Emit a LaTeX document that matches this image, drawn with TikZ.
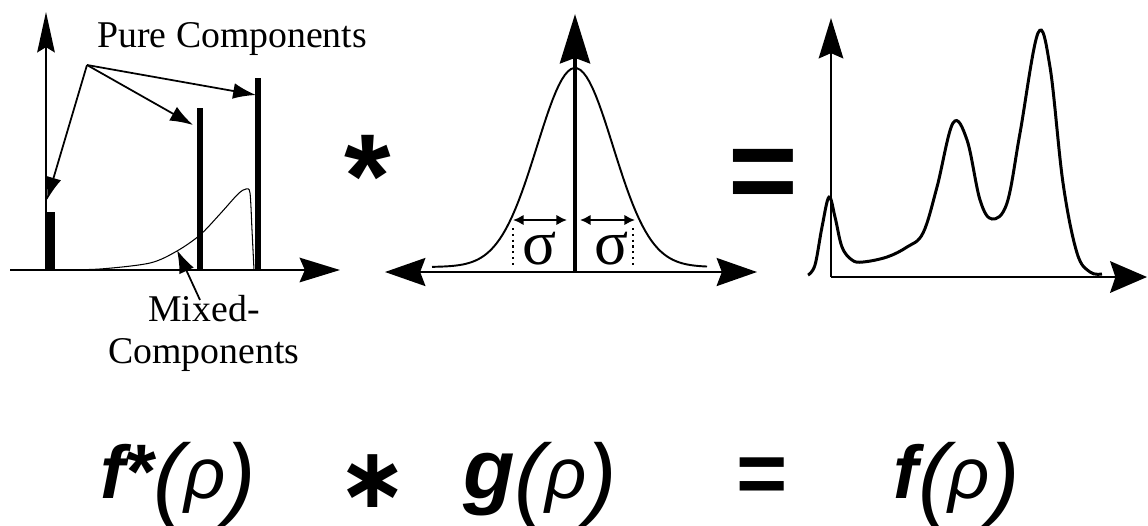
\documentclass[tikz,border=0pt]{standalone}
\usepackage{fontspec}
\setmainfont{Liberation Serif}
\newfontfamily\helv{Liberation Sans}
\newfontfamily\dejav{DejaVu Sans}
\usetikzlibrary{arrows.meta}
\newcommand\argrho{\itshape\fontsize{52}{54}\selectfont\raisebox{-6pt}{(}%
  \fontsize{41}{43}\selectfont ρ\fontsize{52}{54}\selectfont\raisebox{-6pt}{)}}

\begin{document}
\begin{tikzpicture}[x=0.02cm,y=-0.02cm,>=Latex,
  axis/.style={line width=1.1pt},
  pointer/.style={line width=1pt,-{Latex[length=13pt,width=9pt]}},
  sig/.style={line width=1.2pt,{Latex[length=6pt,width=6pt]}-{Latex[length=6pt,width=6pt]}},
  lbl/.style={inner sep=0pt,font=\fontsize{21.5}{24}\selectfont},
  big/.style={inner sep=0pt,anchor=north,font=\helv\bfseries\fontsize{68}{70}\selectfont},
  form/.style={inner sep=0pt,anchor=base west,font=\helv\fontsize{38}{40}\selectfont}]
\useasboundingbox (0,0) rectangle (1148,525);

% f*: pure and mixed components
\coordinate (O1) at (46,270);
\draw[axis,-{Stealth[length=23pt,width=10pt,inset=3pt]}] (O1) -- (46,12);
\draw[axis,-{Stealth[length=23pt,width=14pt,inset=3pt]}] (10,270) -- (340,270);
\fill (45,212) rectangle (55,270);
\fill (197,108) rectangle (203,270);
\fill (255,78) rectangle (261,270);
\draw[line width=0.6pt] plot[smooth] coordinates {(55,270) (100,269) (150,263) (177,251)
  (200,235) (220,214) (238,194) (246,189) (250,193) (252,230) (254,270)};
\node[lbl,anchor=base west] (pure) at (97,47) {Pure Components};
\coordinate (pc) at (87,65);
\coordinate (B1) at (47,200);
\coordinate (B2) at (193,125);
\coordinate (B3) at (256,95);
\draw[pointer] (pc) -- (B1);
\draw[pointer] (pc) -- (B2);
\draw[pointer] (pc) -- (B3);
\node[lbl,align=center,anchor=north] (mixed) at (204,295) {Mixed-\\Components};
\coordinate (mc) at (200,300);
\coordinate (M1) at (177,250);
\draw[pointer] (mc) -- (M1);

\node[big] (conv) at (368,135) {*};

% g: gaussian
\coordinate (O2) at (575,272);
\draw[line width=2.8pt,-{Stealth[length=28pt,width=17pt,inset=3pt]}] (O2) -- (575,14);
\draw[axis,{Stealth[length=23pt,width=16pt,inset=3pt]}-{Stealth[length=23pt,width=16pt,inset=3pt]}] (385,272) -- (757,272);
\draw[line width=1.1pt] plot[domain=432:707,samples=90] (\x,{267-199*exp(-((\x-575)/38)^2/2)});
\draw[sig] (513,220) -- (567,220);
\draw[sig] (580,220) -- (635,220);
\draw[dotted,line width=1.3pt] (513,228) -- (513,268);
\draw[dotted,line width=1.3pt] (633,228) -- (633,268);
\node[inner sep=0pt,font=\fontsize{36}{38}\selectfont] (s1) at (540,249) {σ};
\node[inner sep=0pt,font=\fontsize{36}{38}\selectfont] (s2) at (612,249) {σ};

\node[big] (eq) at (763,149) {=};

% f: result
\coordinate (O3) at (831,277);
\draw[axis,-{Stealth[length=23pt,width=14pt,inset=3pt]}] (O3) -- (831,18);
\draw[axis,-{Stealth[length=21pt,width=18pt,inset=3pt]}] (O3) -- (1147,277);
\draw[line width=1.7pt] plot[smooth,tension=0.6] coordinates {(808,275) (815,265) (822,227)
  (829,197) (835,217) (842,247) (852,260) (863,262) (887,257) (907,247) (923,233)
  (937,187) (953,123) (967,140) (980,200) (992,219) (1007,203) (1020,133) (1038,33)
  (1050,67) (1063,183) (1077,253) (1090,272) (1102,274)};

% formula
\node[form] (ffs) at (100,498) {{\bfseries\itshape\fontsize{42.6}{44}\selectfont f\kern-1pt\fontsize{44}{44}\selectfont*}\argrho};
\node[inner sep=0pt,font=\dejav\bfseries\fontsize{48}{50}\selectfont] (cstar) at (373,481) {∗};
\node[form] (gg) at (463,498) {{\bfseries\itshape\fontsize{48}{50}\selectfont g}\argrho};
\node[big,font=\helv\bfseries\fontsize{50}{52}\selectfont] (eqs) at (762,457) {=};
\node[form] (ff) at (893,498) {{\bfseries\itshape\fontsize{42.6}{44}\selectfont f}\argrho};
\end{tikzpicture}
\end{document}
